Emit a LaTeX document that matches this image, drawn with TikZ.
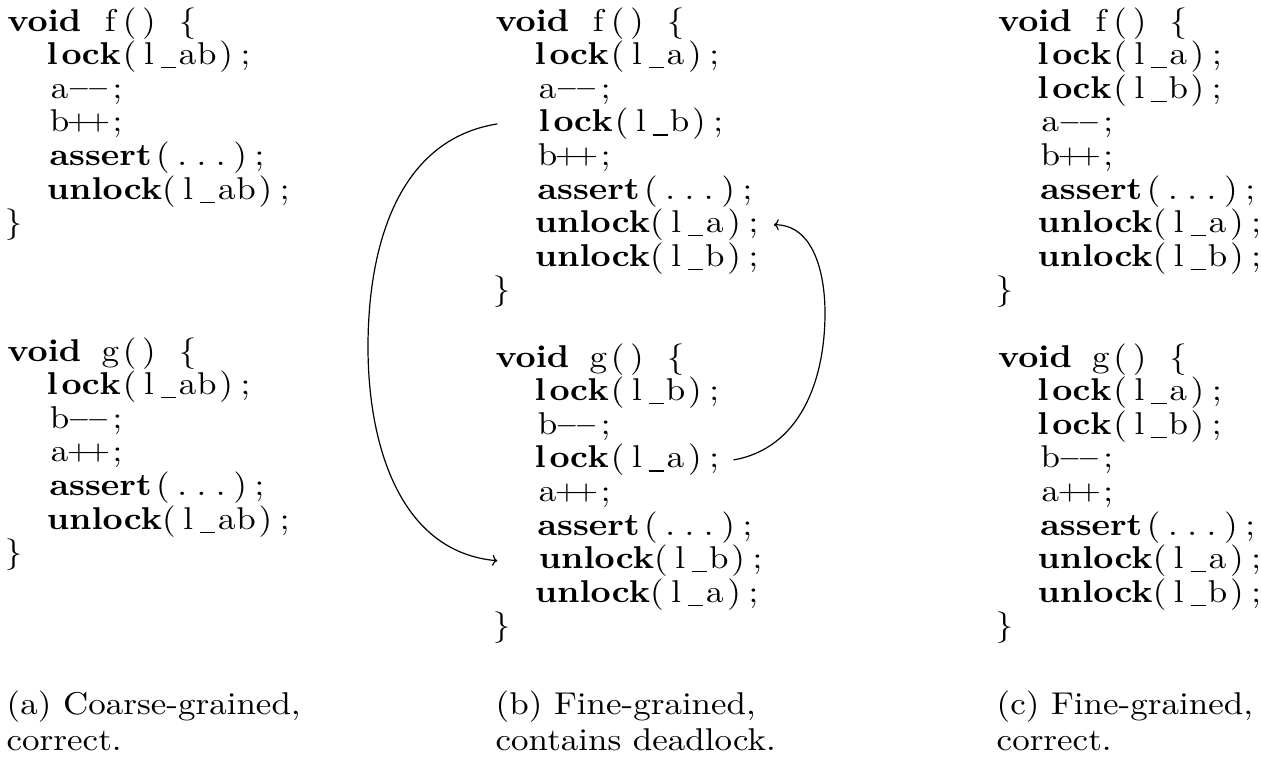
\documentclass[tikz,border=0pt]{standalone}
\usetikzlibrary{arrows.meta}
\newlength\cw \setlength\cw{5.52pt}
\def\X{\kern0pt}
\newcommand\mi{\raisebox{0.7pt}{\fontsize{7.8}{8}\selectfont$-$}}
\newcommand\pl{\raisebox{0.6pt}{\fontsize{8.2}{8}\selectfont +}}
\newcommand\us{\rule[-1.2pt]{4.4pt}{0.4pt}}
\def\cl#1{\clloop#1\relax}
\def\clloop#1{\ifx#1\relax\else\makebox[\cw][c]{#1}\expandafter\clloop\fi}
\newcommand\kw[1]{\textbf{\cl{#1}}}
\newcommand\KwV{\makebox[4\cw][l]{\hspace{1pt}\textbf{void}}}
\newcommand\KwA{\cl{\X\X}\hspace{2pt}\makebox[29.6pt][l]{\textbf{assert}}}
\newcommand\KwU{\cl{\X\X}\hspace{1.2pt}\makebox[32.1pt][l]{\textbf{unlock}}}
\newcommand\KwL{\cl{\X\X}\kw{lock}}
\newcommand\ind{\cl{\X\X}\hspace{2.1pt}}
\tikzset{
  code/.style={anchor=base west, inner sep=0pt, xscale=3.5, yscale=3.15, font=\fontsize{10}{12}\selectfont},
  captxt/.style={anchor=base west, inner sep=0pt, xscale=3.5, yscale=3.15, font=\fontsize{10}{12}\selectfont},
  arr/.style={line width=1.2pt, -{To[length=5pt,width=11pt]}}
}
\begin{document}
\begin{tikzpicture}[x=1pt,y=1pt]
\fill[white] (0,0) rectangle (1261,-766);
\useasboundingbox (0,0) rectangle (1261,-766);
% ---------- column (a)
\def\xa{3.3}
\node[code] (a0) at (\xa,-31)    {\KwV\cl{\X f()\X\{}};
\node[code] (a1) at (\xa,-64.6)  {\KwL\cl{(l\us ab);}};
\node[code] (a2) at (\xa,-98.2)  {\ind\cl{a\mi\mi;}};
\node[code] (a3) at (\xa,-131.8) {\ind\cl{b\pl\pl;}};
\node[code] (a4) at (\xa,-165.4) {\KwA\cl{(...);}};
\node[code] (a5) at (\xa,-199)   {\KwU\cl{(l\us ab);}};
\node[code] (a6) at (\xa,-232.6) {\cl{\}}};
\node[code] (ag0) at (\xa,-361)   {\KwV\cl{\X g()\X\{}};
\node[code] (ag1) at (\xa,-394.6) {\KwL\cl{(l\us ab);}};
\node[code] (ag2) at (\xa,-428.2) {\ind\cl{b\mi\mi;}};
\node[code] (ag3) at (\xa,-461.8) {\ind\cl{a\pl\pl;}};
\node[code] (ag4) at (\xa,-495.4) {\KwA\cl{(...);}};
\node[code] (ag5) at (\xa,-529)   {\KwU\cl{(l\us ab);}};
\node[code] (ag6) at (\xa,-562.6) {\cl{\}}};
% ---------- column (b)
\def\xb{491.3}
\node[code] (b0) at (\xb,-31)    {\KwV\cl{\X f()\X\{}};
\node[code] (b1) at (\xb,-64.6)  {\KwL\cl{(l\us a);}};
\node[code] (b2) at (\xb,-98.2)  {\ind\cl{a\mi\mi;}};
\node[code] (b3) at (\xb+4,-131.8) {\KwL\cl{(l\us b);}};
\node[code] (b4) at (\xb,-165.4) {\ind\cl{b\pl\pl;}};
\node[code] (b5) at (\xb,-199)   {\KwA\cl{(...);}};
\node[code] (b6) at (\xb,-232.6) {\KwU\cl{(l\us a);}};
\node[code] (b7) at (\xb,-266.2) {\KwU\cl{(l\us b);}};
\node[code] (b8) at (\xb,-299.8) {\cl{\}}};
\node[code] (bg0) at (\xb,-367)   {\KwV\cl{\X g()\X\{}};
\node[code] (bg1) at (\xb,-400.6) {\KwL\cl{(l\us b);}};
\node[code] (bg2) at (\xb,-434.2) {\ind\cl{b\mi\mi;}};
\node[code] (bg3) at (\xb,-467.8) {\KwL\cl{(l\us a);}};
\node[code] (bg4) at (\xb,-501.4) {\ind\cl{a\pl\pl;}};
\node[code] (bg5) at (\xb,-535)   {\KwA\cl{(...);}};
\node[code] (bg6) at (\xb+4,-568.6) {\KwU\cl{(l\us b);}};
\node[code] (bg7) at (\xb,-602.2) {\KwU\cl{(l\us a);}};
\node[code] (bg8) at (\xb,-635.8) {\cl{\}}};
% ---------- column (c)
\def\xc{994}
\node[code] (c0) at (\xc,-31)    {\KwV\cl{\X f()\X\{}};
\node[code] (c1) at (\xc,-64.6)  {\KwL\cl{(l\us a);}};
\node[code] (c2) at (\xc,-98.2)  {\KwL\cl{(l\us b);}};
\node[code] (c3) at (\xc,-131.8) {\ind\cl{a\mi\mi;}};
\node[code] (c4) at (\xc,-165.4) {\ind\cl{b\pl\pl;}};
\node[code] (c5) at (\xc,-199)   {\KwA\cl{(...);}};
\node[code] (c6) at (\xc,-232.6) {\KwU\cl{(l\us a);}};
\node[code] (c7) at (\xc,-266.2) {\KwU\cl{(l\us b);}};
\node[code] (c8) at (\xc,-299.8) {\cl{\}}};
\node[code] (cg0) at (\xc,-367)   {\KwV\cl{\X g()\X\{}};
\node[code] (cg1) at (\xc,-400.6) {\KwL\cl{(l\us a);}};
\node[code] (cg2) at (\xc,-434.2) {\KwL\cl{(l\us b);}};
\node[code] (cg3) at (\xc,-467.8) {\ind\cl{b\mi\mi;}};
\node[code] (cg4) at (\xc,-501.4) {\ind\cl{a\pl\pl;}};
\node[code] (cg5) at (\xc,-535)   {\KwA\cl{(...);}};
\node[code] (cg6) at (\xc,-568.6) {\KwU\cl{(l\us a);}};
\node[code] (cg7) at (\xc,-602.2) {\KwU\cl{(l\us b);}};
\node[code] (cg8) at (\xc,-635.8) {\cl{\}}};
% ---------- captions
\node[captxt] (capa1) at (6,-714) {(a) Coarse-grained,};
\node[captxt] (capa2) at (6,-750) {correct.};
\node[captxt] (capb1) at (495,-714) {(b) Fine-grained,};
\node[captxt] (capb2) at (495,-750) {contains deadlock.};
\node[captxt] (capc1) at (996,-714) {(c) Fine-grained,};
\node[captxt] (capc2) at (996,-750) {correct.};
% ---------- arrows
\coordinate (lw) at (368,-347);
\coordinate (rw) at (825,-313);
\draw[arr] ([xshift=2pt]b3.west) to[out=189,in=90] (lw) to[out=-90,in=175] ([xshift=2pt]bg6.west);
\draw[arr] ([xshift=9pt]bg3.east) to[out=10,in=-90] (rw) to[out=90,in=0] ([xshift=10pt]b6.east);
\end{tikzpicture}
\end{document}
